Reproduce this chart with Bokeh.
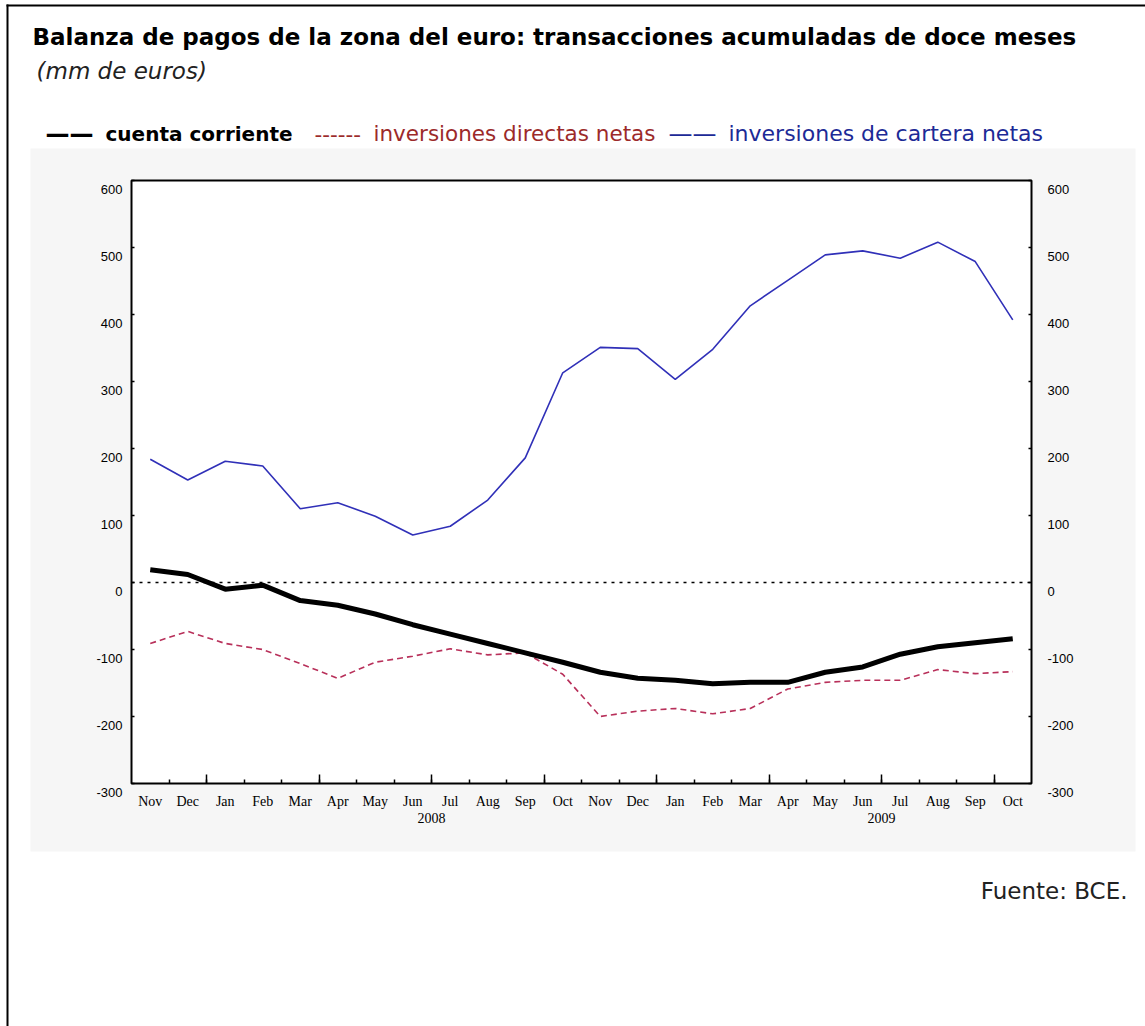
from bokeh.plotting import figure
from bokeh.models import Range1d, LinearAxis, FixedTicker, Label, BoxAnnotation
from bokeh.embed import file_html
from bokeh.resources import INLINE

# ---------------- data (mm de euros, 12-month cumulated) ----------------
months = ["Nov", "Dec", "Jan", "Feb", "Mar", "Apr", "May", "Jun", "Jul", "Aug", "Sep", "Oct",
          "Nov", "Dec", "Jan", "Feb", "Mar", "Apr", "May", "Jun", "Jul", "Aug", "Sep", "Oct"]
years = ["2008", "2009"]
cuenta_corriente = [19, 12, -10, -4, -27, -34, -47, -63, -77, -91, -105, -119,
                    -134, -143, -146, -151, -149, -149, -134, -126, -107, -96, -90, -84]
inv_directas_netas = [-91, -73, -91, -100, -121, -143, -119, -110, -99, -108, -105, -137,
                      -200, -192, -188, -196, -188, -159, -149, -146, -146, -130, -136, -133]
inv_cartera_netas = [184, 153, 181, 174, 110, 119, 99, 71, 84, 123, 186, 313,
                     351, 349, 303, 348, 413, 451, 489, 495, 484, 508, 479, 392]
y_ticks = [-300, -200, -100, 0, 100, 200, 300, 400, 500, 600]

title_text = "Balanza de pagos de la zona del euro: transacciones acumuladas de doce meses"
subtitle_text = "(mm de euros)"
legend_names = ["cuenta corriente", "inversiones directas netas", "inversiones de cartera netas"]
source_text = "Fuente: BCE."

# ---------------- layout (canvas pixels) ----------------
W, H = 1145, 1026
BOX_L, BOX_R, BOX_T, BOX_B = 131, 1031, 180, 783     # inner chart box
LABEL_SHIFT = 13                                      # tick labels sit a bit below their ticks

n = len(months)
x = list(range(n))
x0, x1 = -0.5, n - 0.5
y0, y1 = y_ticks[0], y_ticks[-1]
ppx = (BOX_R - BOX_L) / (x1 - x0)
ppy = (BOX_B - BOX_T) / (y1 - y0)
xs, xe = x0 - BOX_L / ppx, x1 + (W - BOX_R) / ppx
ys, ye = y0 - (H - BOX_B) / ppy, y1 + BOX_T / ppy


def dx(px):
    return xs + px / ppx


def dy(py):
    return ye - py / ppy


p = figure(width=W, height=H, output_backend="svg", toolbar_location=None,
           x_range=Range1d(xs, xe), y_range=Range1d(ys, ye),
           x_axis_location=None, y_axis_location=None,
           min_border=0, min_border_left=0, min_border_right=0,
           min_border_top=0, min_border_bottom=0)
p.title.visible = False
p.grid.visible = False
p.background_fill_color = "white"
p.border_fill_color = "white"
p.outline_line_color = None
p.extra_y_ranges = {"lab": Range1d(ys + LABEL_SHIFT, ye + LABEL_SHIFT)}

# backgrounds / frames
p.add_layout(BoxAnnotation(left=dx(30), right=dx(1135), top=dy(148), bottom=dy(851),
                           fill_color="#f6f6f6", fill_alpha=1.0, line_color=None, level="underlay"))
p.add_layout(BoxAnnotation(left=x0, right=x1, bottom=y0, top=y1,
                           fill_color="white", fill_alpha=1.0,
                           line_color="black", line_alpha=1.0, line_width=2, level="underlay"))
# outer page frame (left and top rules)
p.add_layout(BoxAnnotation(left=dx(6), right=dx(8), top=dy(4), bottom=dy(H + 60),
                           fill_color="black", fill_alpha=1.0, line_color=None, level="underlay"))
p.add_layout(BoxAnnotation(left=dx(6), right=dx(W + 60), top=dy(4), bottom=dy(6),
                           fill_color="black", fill_alpha=1.0, line_color=None, level="underlay"))

# zero line inside the chart box
p.line([x0, x1], [0, 0], line_color="black", line_dash="3 5", line_width=1.5)

# series
p.line(x, inv_directas_netas, line_color="#b8305a", line_width=1.6, line_dash="6 4")
p.line(x, inv_cartera_netas, line_color="#3030b8", line_width=1.6)
p.line(x, cuenta_corriente, line_color="black", line_width=5)

# ---------------- axes ----------------
axis_font_y = "Liberation Sans"
axis_font_x = "Liberation Serif"
ylab = {v: str(v) for v in y_ticks}


def y_label_axis(loc, standoff):
    return LinearAxis(y_range_name="lab", fixed_location=loc, ticker=FixedTicker(ticks=y_ticks),
                      major_label_overrides=ylab,
                      major_tick_in=0, major_tick_out=0, minor_tick_in=0, minor_tick_out=0,
                      axis_line_color=None, major_label_standoff=standoff,
                      major_label_text_font=axis_font_y, major_label_text_font_size="13px",
                      major_label_text_color="black")


def y_tick_axis(loc):
    return LinearAxis(fixed_location=loc, ticker=FixedTicker(ticks=y_ticks),
                      major_tick_in=3, major_tick_out=0, major_tick_line_width=1.5,
                      minor_tick_in=0, minor_tick_out=0,
                      axis_line_color=None, major_label_text_color=None)


p.add_layout(y_label_axis(x0, 9), "left")
p.add_layout(y_label_axis(x1, 16), "right")
p.add_layout(y_tick_axis(x0), "left")
p.add_layout(y_tick_axis(x1), "right")

# month labels
month_axis = LinearAxis(fixed_location=y0, ticker=FixedTicker(ticks=x),
                        major_label_overrides={i: m for i, m in enumerate(months)},
                        major_tick_in=0, major_tick_out=0, minor_tick_in=0, minor_tick_out=0,
                        axis_line_color=None, major_label_standoff=10,
                        major_label_text_font=axis_font_x, major_label_text_font_size="14px",
                        major_label_text_color="black")
p.add_layout(month_axis, "below")

# quarter / month boundary ticks + year labels
quarter_bounds = [i - 0.5 for i, m in enumerate(months) if m in ("Jan", "Apr", "Jul", "Oct")]
month_bounds = [i - 0.5 for i in range(1, n)]
jan_idx = [i for i, m in enumerate(months) if m == "Jan"]
year_over = {q: "" for q in quarter_bounds}
for j, yname in zip(jan_idx, years):
    year_over[j + 5.5] = yname
year_axis = LinearAxis(fixed_location=y0,
                       ticker=FixedTicker(ticks=quarter_bounds, minor_ticks=month_bounds),
                       major_label_overrides=year_over,
                       major_tick_in=9, major_tick_out=0, minor_tick_in=4, minor_tick_out=0,
                       major_tick_line_width=1.5, minor_tick_line_width=1.5,
                       axis_line_color=None, major_label_standoff=29,
                       major_label_text_font=axis_font_x, major_label_text_font_size="14px",
                       major_label_text_color="black")
p.add_layout(year_axis, "below")


# ---------------- texts ----------------
def add_text(txt, px, py, size, color="black", style="normal", font="DejaVu Sans", align="left"):
    p.add_layout(Label(x=dx(px), y=dy(py), text=txt,
                       text_font=font, text_font_size=f"{size}px", text_font_style=style,
                       text_color=color, text_align=align, text_baseline="middle"))


add_text(title_text, 32, 36, 23, style="bold")
add_text(subtitle_text, 36, 70, 23, color="#222222", style="italic")

add_text("\u2014\u2014", 45, 133, 24, style="bold")
add_text(legend_names[0], 105, 133, 20, style="bold")
add_text("------", 314, 133, 21.5, color="#9c2a2a")
add_text(legend_names[1], 373, 133, 21.5, color="#9c2a2a")
add_text("\u2014\u2014", 668, 133, 24, color="#1c2a96")
add_text(legend_names[2], 728, 133, 22, color="#1c2a96")

add_text(source_text, 1127, 890, 23, color="#222222", align="right")

open("out.html", "w").write(file_html(p, INLINE))
